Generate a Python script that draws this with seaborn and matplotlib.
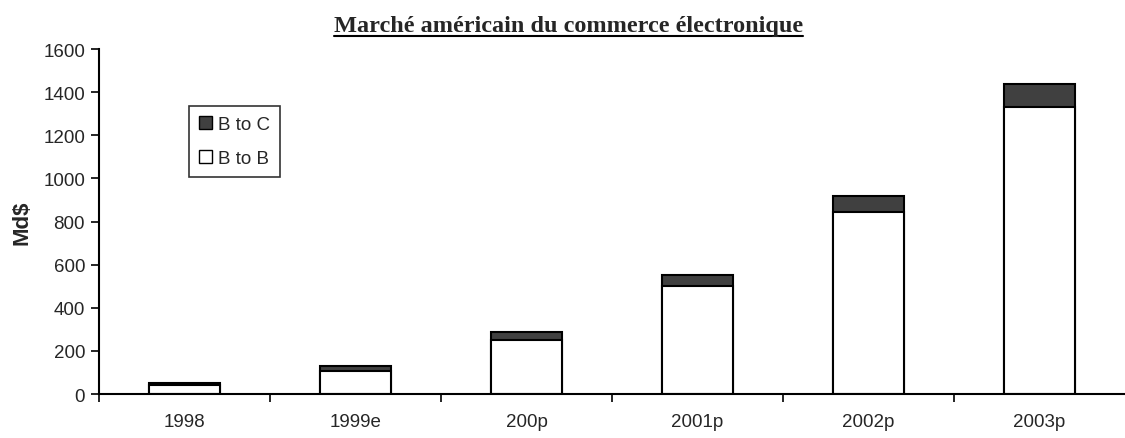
import matplotlib
matplotlib.use("Agg")

import matplotlib.pyplot as plt
from matplotlib.patches import Patch
from matplotlib.lines import Line2D
import seaborn as sns
import pandas as pd

# US e-commerce market (Md$)
years = ["1998", "1999e", "200p", "2001p", "2002p", "2003p"]
b_to_b = [43, 109, 251, 499, 843, 1331]
b_to_c = [8, 20, 38, 53, 75, 108]

df = pd.DataFrame({"year": years, "B to B": b_to_b, "B to C": b_to_c})
df["total"] = df["B to B"] + df["B to C"]

sns.set_style("ticks")
plt.rcParams["font.family"] = ["Liberation Sans", "DejaVu Sans"]

dark = "#404040"

fig = plt.figure(figsize=(11.25, 4.39), dpi=100)
ax = fig.add_axes([0.088, 0.1002, 0.912, 0.7858])

# stacked bars: total (dark) underneath, B to B (white) drawn over it
sns.barplot(data=df, x="year", y="total", color=dark, width=0.41,
            edgecolor="black", linewidth=1.5, saturation=1, ax=ax)
sns.barplot(data=df, x="year", y="B to B", color="white", width=0.41,
            edgecolor="black", linewidth=1.5, saturation=1, ax=ax)

ax.set_xlim(-0.5, 5.5)
ax.set_ylim(0, 1600)
ax.set_yticks(range(0, 1601, 200))
ax.set_xlabel("")
ax.set_ylabel("Md$", fontsize=16, fontweight="bold")
ax.yaxis.set_label_coords(-0.065, 0.5)

# category boundary ticks on x, labels centred without ticks
ax.set_xticks([i - 0.5 for i in range(len(years))], minor=True)
ax.tick_params(axis="x", which="major", length=0, pad=14, labelsize=13.5)
ax.tick_params(axis="x", which="minor", length=6, width=1.2, color="black", direction="out")
ax.tick_params(axis="y", length=6, width=1.2, color="black", direction="out",
               labelsize=13.5, pad=4)

for side in ["top", "right"]:
    ax.spines[side].set_visible(False)
for side in ["left", "bottom"]:
    ax.spines[side].set_color("black")
    ax.spines[side].set_linewidth(1.5)

handles = [Patch(facecolor=dark, edgecolor="black", label="B to C"),
           Patch(facecolor="white", edgecolor="black", label="B to B")]
leg = ax.legend(handles=handles, loc="upper left", bbox_to_anchor=(0.0876, 0.836),
                fontsize=13.5, frameon=True, fancybox=False, edgecolor="black",
                handlelength=0.7, handleheight=0.7, handletextpad=0.3,
                labelspacing=0.9, borderpad=0.55, borderaxespad=0)
leg.get_frame().set_linewidth(1.2)

title = fig.text(0.505, 0.927, "Marché américain du commerce électronique",
                 ha="center", va="baseline", fontsize=17.5, fontweight="bold",
                 family=["Liberation Serif", "DejaVu Serif"])

# underline the title
fig.canvas.draw()
bb = title.get_window_extent().transformed(fig.transFigure.inverted())
fig.add_artist(Line2D([bb.x0, bb.x1], [bb.y0 + 0.001, bb.y0 + 0.001],
                      transform=fig.transFigure, color="black", linewidth=1.5))

fig.savefig("out.png", dpi=100)
